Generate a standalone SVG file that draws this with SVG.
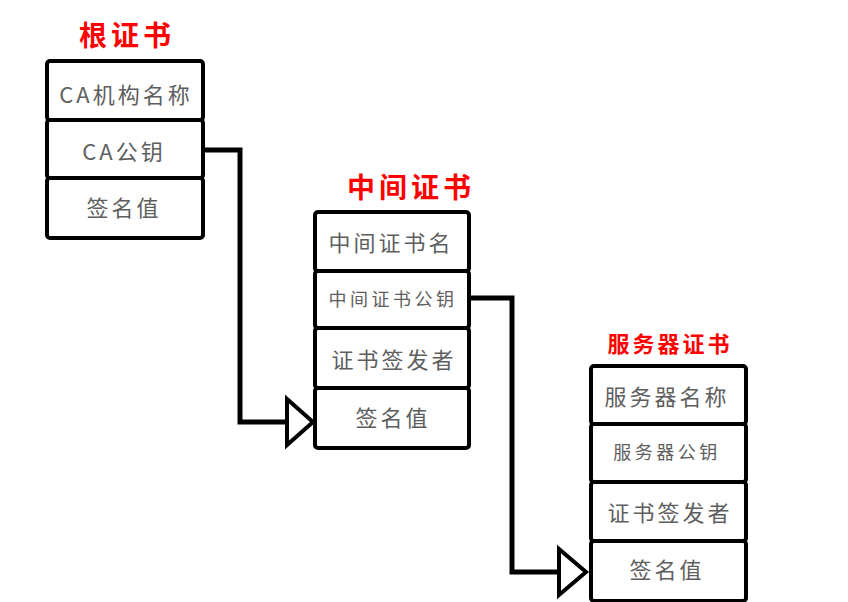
<svg xmlns="http://www.w3.org/2000/svg" width="848" height="602" viewBox="0 0 848 602">
<style>
.row{fill:#fff;stroke:#000;stroke-width:4;stroke-linejoin:round}
.t{font-family:"Noto Sans CJK SC","Noto Sans",sans-serif;fill:#5e5e5e;font-weight:400;text-anchor:middle;font-size:22px;letter-spacing:3px}
.s{font-size:18px;letter-spacing:3.5px}
.title{font-family:"Noto Sans CJK SC","Noto Sans",sans-serif;fill:#f00;font-weight:bold;text-anchor:middle;font-size:28px;letter-spacing:4px}
.title2{font-size:22px;letter-spacing:3px}
.c{fill:none;stroke:#000;stroke-width:5;stroke-linejoin:miter}
.ah{fill:#fff;stroke:#000;stroke-width:4;stroke-linejoin:miter}
</style>
<rect width="848" height="602" fill="#fff"/>
<g id="connectors">
<path class="c" d="M203,150 H240 V422 H287"/>
<path class="ah" d="M287,399 L313,422 L287,445 Z"/>
<path class="c" d="M469,298 H512 V572 H559"/>
<path class="ah" d="M559,549 L586,572 L559,595 Z"/>
</g>
<g id="root">
<text class="title" x="127" y="46">根证书</text>
<rect class="row" x="47" y="61" width="156" height="59" rx="3"/>
<rect class="row" x="47" y="120" width="156" height="58" rx="3"/>
<rect class="row" x="47" y="178" width="156" height="60" rx="3"/>
<text class="t" x="126" y="103">CA机构名称</text>
<text class="t" x="124" y="160">CA公钥</text>
<text class="t" x="124" y="216">签名值</text>
</g>
<g id="intermediate">
<text class="title" x="411" y="198">中间证书</text>
<rect class="row" x="315" y="212" width="154" height="59" rx="3"/>
<rect class="row" x="315" y="271" width="154" height="57" rx="3"/>
<rect class="row" x="315" y="328" width="154" height="60" rx="3"/>
<rect class="row" x="315" y="388" width="154" height="60" rx="3"/>
<text class="t" x="391" y="251">中间证书名</text>
<text class="t s" x="393" y="306">中间证书公钥</text>
<text class="t" x="394" y="368">证书签发者</text>
<text class="t" x="393" y="426">签名值</text>
</g>
<g id="server">
<text class="title title2" x="670" y="352">服务器证书</text>
<rect class="row" x="591" y="366" width="155" height="58" rx="3"/>
<rect class="row" x="591" y="424" width="155" height="58" rx="3"/>
<rect class="row" x="591" y="482" width="155" height="59" rx="3"/>
<rect class="row" x="591" y="541" width="155" height="60" rx="3"/>
<text class="t" x="667" y="405">服务器名称</text>
<text class="t s" x="667" y="459">服务器公钥</text>
<text class="t" x="670" y="521">证书签发者</text>
<text class="t" x="667" y="578">签名值</text>
</g>
</svg>
